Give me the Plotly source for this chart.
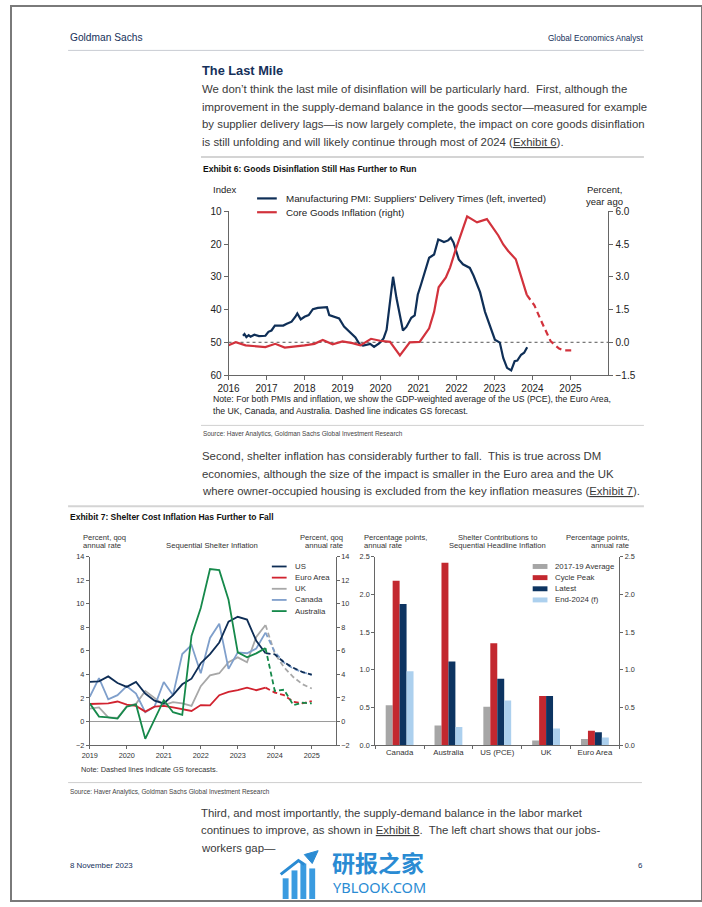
import plotly.graph_objects as go

W, H = 702, 907
BODY = "Liberation Sans, Arial, Helvetica, sans-serif"
ARIAL = "Liberation Sans, Arial, Helvetica, sans-serif"
NAVY = "#15305a"
TEXT = "#3a3a3a"
AXC = "#666666"

# ---------------- Exhibit 6 data ----------------
pmi_x = [2016.38, 2016.42, 2016.47, 2016.53, 2016.58, 2016.68, 2016.80, 2016.97, 2017.05, 2017.13,
         2017.22, 2017.35, 2017.44, 2017.52, 2017.66, 2017.76, 2017.81, 2017.90, 2018.00, 2018.11,
         2018.22, 2018.35, 2018.59, 2018.65, 2018.78, 2018.91, 2019.04, 2019.17, 2019.34, 2019.45,
         2019.54, 2019.73, 2019.83, 2019.97, 2020.08, 2020.16, 2020.25, 2020.33, 2020.42, 2020.51,
         2020.59, 2020.68, 2020.81, 2020.90, 2020.98, 2021.07, 2021.20, 2021.28, 2021.41, 2021.52,
         2021.60, 2021.67, 2021.78, 2021.85, 2021.92, 2021.98, 2022.06, 2022.17, 2022.28, 2022.35,
         2022.45, 2022.55, 2022.62, 2022.75, 2022.88, 2023.01, 2023.14, 2023.23, 2023.33, 2023.44,
         2023.53, 2023.60, 2023.70, 2023.78, 2023.86]
pmi_y = [48.0, 47.5, 48.4, 47.8, 48.3, 47.7, 48.1, 48.0, 46.8, 46.4,
         44.9, 45.0, 44.9, 44.4, 43.7, 42.2, 41.2, 43.0, 42.2, 41.7,
         39.9, 39.5, 39.3, 41.7, 42.2, 42.7, 45.2, 46.7, 48.5, 50.6,
         51.0, 50.5, 51.4, 50.3, 48.8, 46.2, 38.0, 30.0, 36.5, 41.7,
         46.4, 45.3, 42.5, 41.8, 35.5, 32.2, 27.2, 24.2, 23.2, 18.6,
         19.0, 19.4, 18.9, 18.1, 19.5, 21.6, 24.7, 26.2, 27.0, 27.3,
         29.7, 32.5, 34.7, 40.7, 44.9, 49.2, 50.1, 54.8, 57.8, 58.6,
         55.8, 55.6, 53.8, 53.2, 51.5]

core_x = [2016.00, 2016.10, 2016.19, 2016.45, 2016.97, 2017.23, 2017.48, 2018.00, 2018.26, 2018.48,
          2018.74, 2019.00, 2019.26, 2019.47, 2019.75, 2019.99, 2020.25, 2020.51, 2020.77, 2021.03,
          2021.28, 2021.41, 2021.53, 2021.72, 2021.83, 2021.98, 2022.12, 2022.28, 2022.40, 2022.54,
          2022.80, 2022.97, 2023.10, 2023.23, 2023.36, 2023.56, 2023.66, 2023.79, 2023.85]
core_y = [-0.14, -0.05, 0.0, -0.14, -0.22, -0.07, -0.24, -0.14, -0.07, 0.11,
          -0.09, 0.04, -0.04, -0.14, 0.16, 0.07, 0.02, -0.60, 0.0, 0.02,
          0.64, 1.39, 2.52, 2.97, 3.42, 4.25, 5.0, 5.76, 5.64, 5.49,
          5.64, 5.23, 4.89, 4.48, 4.18, 3.8, 3.2, 2.44, 2.17]
core_fx = [2023.85, 2024.05, 2024.26, 2024.48, 2024.70, 2024.82, 2025.04]
core_fy = [2.17, 1.69, 0.86, 0.04, -0.29, -0.37, -0.37]

ex6_names = ["Manufacturing PMI: Suppliers' Delivery Times (left, inverted)", "Core Goods Inflation (right)"]
ex6_colors = ["#0f2f57", "#d2323c"]
ex6_years = list(range(2016, 2026))
ex6_left_ticks = [10, 20, 30, 40, 50, 60]
ex6_right_ticks = [-1.5, 0.0, 1.5, 3.0, 4.5, 6.0]

# ---------------- Exhibit 7 (left) data ----------------
q_act = [2019.0, 2019.25, 2019.5, 2019.75, 2020.0, 2020.25, 2020.5, 2020.75, 2021.0, 2021.25,
         2021.5, 2021.75, 2022.0, 2022.25, 2022.5, 2022.75, 2023.0, 2023.25, 2023.5, 2023.75]
q_fc = [2023.75, 2024.0, 2024.25, 2024.5, 2024.75, 2025.0]

us_act = [3.36, 3.41, 3.83, 3.27, 2.94, 3.36, 2.38, 1.77, 1.54, 2.24, 3.16, 3.64, 4.95, 5.73, 6.71, 8.47, 8.89, 8.66, 6.85, 5.8]
us_fc = [5.8, 5.7, 5.03, 4.56, 4.2, 3.98]
ea_act = [1.49, 1.54, 1.54, 1.7, 1.43, 1.32, 0.84, 1.26, 1.32, 1.21, 1.07, 0.9, 1.4, 1.38, 2.24, 2.52, 2.66, 2.88, 2.66, 2.88]
ea_fc = [2.88, 2.46, 2.24, 1.68, 1.54, 1.74]
uk_act = [1.1, 1.2, 0.35, 0.3, 1.3, 1.5, 2.6, 2.0, 1.4, 1.65, 1.54, 1.32, 3.0, 3.92, 4.1, 5.03, 5.45, 5.03, 7.18, 8.19]
uk_fc = [8.19, 5.79, 4.6, 3.78, 3.16, 2.8]
ca_act = [2.1, 3.69, 1.88, 2.24, 3.0, 2.38, 0.79, 1.26, 3.36, 2.24, 5.73, 6.49, 4.1, 7.1, 8.3, 4.47, 5.87, 5.8, 6.2, 7.55]
ca_fc = [7.55, 5.9, 5.0, 4.5, 4.2, 3.95]
au_act = [1.54, 0.42, 0.35, 0.25, 1.26, 1.45, -1.47, 0.2, 1.82, 0.79, 0.56, 7.27, 9.64, 12.94, 12.85, 10.34, 5.87, 5.45, 5.79, 6.23]
au_fc = [6.23, 2.6, 2.7, 1.4, 1.6, 1.54]

ex7_names = ["US", "Euro Area", "UK", "Canada", "Australia"]
ex7_colors = ["#0e2d55", "#d1232f", "#a8a8a8", "#7f9fcb", "#16894b"]
ex7_act = [us_act, ea_act, uk_act, ca_act, au_act]
ex7_fc = [us_fc, ea_fc, uk_fc, ca_fc, au_fc]
ex7_years = list(range(2019, 2026))
ex7_ticks = [-2, 0, 2, 4, 6, 8, 10, 12, 14]

# ---------------- Exhibit 7 (right) data ----------------
countries = ["Canada", "Australia", "US (PCE)", "UK", "Euro Area"]
avg_1719 = [0.53, 0.26, 0.51, 0.06, 0.08]
cycle_peak = [2.18, 2.42, 1.35, 0.65, 0.19]
latest = [1.87, 1.11, 0.88, 0.65, 0.17]
end_2024 = [0.98, 0.24, 0.59, 0.22, 0.10]
bar_names = ["2017-19 Average", "Cycle Peak", "Latest", "End-2024 (f)"]
bar_colors = ["#a6a6a6", "#c3282f", "#0d3461", "#acd0ee"]
bar_ticks = [0.0, 0.5, 1.0, 1.5, 2.0, 2.5]

fig = go.Figure()

# Exhibit 6 traces
fig.add_trace(go.Scatter(x=pmi_x, y=pmi_y, mode="lines", line=dict(color=ex6_colors[0], width=2.2),
                         xaxis="x", yaxis="y", showlegend=False, hoverinfo="skip"))
fig.add_trace(go.Scatter(x=core_x, y=core_y, mode="lines", line=dict(color=ex6_colors[1], width=2.2),
                         xaxis="x", yaxis="y2", showlegend=False, hoverinfo="skip"))
fig.add_trace(go.Scatter(x=core_fx, y=core_fy, mode="lines", line=dict(color=ex6_colors[1], width=2.2, dash="6px,4px"),
                         xaxis="x", yaxis="y2", showlegend=False, hoverinfo="skip"))

# Exhibit 7 left traces (draw order: UK, Canada, Euro, US, Australia)
order = [2, 3, 1, 0, 4]
for i in order:
    fig.add_trace(go.Scatter(x=q_act, y=ex7_act[i], mode="lines", line=dict(color=ex7_colors[i], width=1.8),
                             xaxis="x2", yaxis="y3", showlegend=False, hoverinfo="skip"))
for i in order:
    fig.add_trace(go.Scatter(x=q_fc, y=ex7_fc[i], mode="lines", line=dict(color=ex7_colors[i], width=1.8, dash="5px,3px"),
                             xaxis="x2", yaxis="y3", showlegend=False, hoverinfo="skip"))
fig.add_trace(go.Scatter(x=[None], y=[None], xaxis="x2", yaxis="y4", showlegend=False, hoverinfo="skip"))

# Exhibit 7 right bars
for vals, name, col in zip([avg_1719, cycle_peak, latest, end_2024], bar_names, bar_colors):
    fig.add_trace(go.Bar(x=countries, y=vals, name=name, marker=dict(color=col, line=dict(width=0)),
                         xaxis="x3", yaxis="y5", showlegend=False, hoverinfo="skip"))
fig.add_trace(go.Scatter(x=[None], y=[None], xaxis="x3", yaxis="y6", showlegend=False, hoverinfo="skip"))


def px(x):
    return x / W


def py(y):
    return 1 - y / H


common = dict(showgrid=False, zeroline=False, showline=True, linecolor=AXC, linewidth=1,
              ticks="outside", tickcolor=AXC, ticklen=4, tickwidth=1)

f10 = dict(family=ARIAL, size=10, color="#222")
f7 = dict(family=ARIAL, size=7.3, color="#333")

fig.update_layout(
    width=W, height=H, autosize=False, margin=dict(l=0, r=0, t=0, b=0),
    paper_bgcolor="white", plot_bgcolor="rgba(0,0,0,0)", showlegend=False,
    barmode="group", bargap=0.43, bargroupgap=0,
    xaxis=dict(common, domain=[px(221), px(607)], range=[2016, 2026], anchor="y",
               tickvals=ex6_years, ticktext=[str(v) for v in ex6_years], tickfont=f10),
    yaxis=dict(common, domain=[py(374), py(208)], range=[60, 10], anchor="x",
               tickvals=ex6_left_ticks, tickfont=f10),
    yaxis2=dict(common, domain=[py(374), py(208)], range=[-1.5, 6.0], anchor="x", overlaying="y", side="right",
                tickvals=ex6_right_ticks, tickformat=".1f", tickfont=f10),
    xaxis2=dict(common, domain=[px(80), px(330)], range=[2019, 2025.65], anchor="y3",
                tickvals=ex7_years, tickfont=f7, ticklen=3),
    yaxis3=dict(common, domain=[py(749), py(558)], range=[-2, 14], anchor="x2",
                tickvals=ex7_ticks, tickfont=f7, ticklen=3),
    yaxis4=dict(common, domain=[py(749), py(558)], range=[-2, 14], anchor="x2", overlaying="y3", side="right",
                tickvals=ex7_ticks, tickfont=f7, ticklen=3),
    xaxis3=dict(common, domain=[px(370), px(618)], anchor="y5", type="category",
                tickson="boundaries", tickfont=dict(family=ARIAL, size=7.8, color="#333"), ticklen=3),
    yaxis5=dict(common, domain=[py(749), py(558)], range=[0, 2.5], anchor="x3",
                tickvals=bar_ticks, tickformat=".1f", tickfont=f7, ticklen=3),
    yaxis6=dict(common, domain=[py(749), py(558)], range=[0, 2.5], anchor="x3", overlaying="y5", side="right",
                tickvals=bar_ticks, tickformat=".1f", tickfont=f7, ticklen=3),
)

ann = []
shapes = []


def txt(x, y, s, size, color=TEXT, family=BODY, anchor="left"):
    ann.append(dict(x=px(x), y=py(y), xref="paper", yref="paper", text=s, showarrow=False,
                    xanchor=anchor, yanchor="middle", font=dict(size=size, color=color, family=family),
                    borderpad=0))


def hline(x0, x1, y, color="#cfcfcf", width=1):
    shapes.append(dict(type="line", xref="paper", yref="paper", x0=px(x0), x1=px(x1), y0=py(y), y1=py(y),
                       line=dict(color=color, width=width)))


def u(s):
    return '<span style="text-decoration:underline">' + s + '</span>'


SP = "\u00a0 "
# Header
txt(59, 32, "Goldman Sachs", 10.2, NAVY)
txt(643, 33, "Global Economics Analyst", 8.2, NAVY, anchor="right")
hline(58, 643, 45, "#c9ccd3", 1)

txt(193, 65, "<b>The Last Mile</b>", 12.8, NAVY)
para1 = ["We don\u2019t think the last mile of disinflation will be particularly hard." + SP + "First, although the",
         "improvement in the supply-demand balance in the goods sector\u2014measured for example",
         "by supplier delivery lags\u2014is now largely complete, the impact on core goods disinflation",
         "is still unfolding and will likely continue through most of 2024 (" + u("Exhibit 6") + ")."]
for i, line in enumerate(para1):
    txt(193, 84 + 18 * i, line, 11.4)

hline(193, 643, 153, "#d4d4d4", 2)
txt(194, 165, "<b>Exhibit 6: Goods Disinflation Still Has Further to Run</b>", 8.5, "#111")

# Exhibit 6 labels
txt(217, 186, "Index", 9.5, "#222", ARIAL, "center")
txt(603, 186, "Percent,", 9.5, "#222", ARIAL, "center")
txt(603, 198, "year ago", 9.5, "#222", ARIAL, "center")
for k, (nm, col) in enumerate(zip(ex6_names, ex6_colors)):
    yy = 195 + 14 * k
    shapes.append(dict(type="line", xref="paper", yref="paper", x0=px(250), x1=px(270), y0=py(yy), y1=py(yy),
                       line=dict(color=col, width=2.2)))
    txt(278, yy, nm, 9.8, "#222", ARIAL)
shapes.append(dict(type="line", xref="x domain", yref="y", x0=0, x1=1, y0=50, y1=50,
                   line=dict(color="#555", width=1, dash="dot"), layer="below"))
txt(204, 398, "Note: For both PMIs and inflation, we show the GDP-weighted average of the US (PCE), the Euro Area,", 8.7, "#222", ARIAL)
txt(204, 410, "the UK, Canada, and Australia. Dashed line indicates GS forecast.", 8.7, "#222", ARIAL)
hline(193, 643, 425, "#d0d0d0", 1)
txt(194, 434, "Source: Haver Analytics, Goldman Sachs Global Investment Research", 6.4, "#444")

para2 = ["Second, shelter inflation has considerably further to fall." + SP + "This is true across DM",
         "economies, although the size of the impact is smaller in the Euro area and the UK",
         "where owner-occupied housing is excluded from the key inflation measures (" + u("Exhibit 7") + ")."]
for i, line in enumerate(para2):
    txt(193, 456 + 18 * i, line, 11.4)

hline(58, 643, 507, "#d4d4d4", 2)
txt(59, 518, "<b>Exhibit 7: Shelter Cost Inflation Has Further to Fall</b>", 8.5, "#111")

# Exhibit 7 left labels
txt(72, 539, "Percent, qoq", 7.6, "#333", ARIAL)
txt(72, 547, "annual rate", 7.6, "#333", ARIAL)
txt(204, 547, "Sequential Shelter Inflation", 7.7, "#333", ARIAL, "center")
txt(338, 539, "Percent, qoq", 7.6, "#333", ARIAL, "right")
txt(338, 547, "annual rate", 7.6, "#333", ARIAL, "right")
shapes.append(dict(type="line", xref="x2 domain", yref="y3", x0=0, x1=1, y0=0, y1=0,
                   line=dict(color="#9a9a9a", width=1), layer="below"))
for k, (nm, col) in enumerate(zip(ex7_names, ex7_colors)):
    yy = 568 + 11.3 * k
    shapes.append(dict(type="line", xref="paper", yref="paper", x0=px(265), x1=px(280), y0=py(yy), y1=py(yy),
                       line=dict(color=col, width=1.8)))
    txt(287, yy, nm, 7.8, "#333", ARIAL)
txt(70, 774, "Note: Dashed lines indicate GS forecasts.", 7.4, "#333", ARIAL)

# Exhibit 7 right labels
txt(358, 539, "Percentage points,", 7.6, "#333", ARIAL)
txt(358, 547, "annual rate", 7.6, "#333", ARIAL)
txt(494, 539, "Shelter Contributions to", 7.6, "#333", ARIAL, "center")
txt(494, 547, "Sequential Headline Inflation", 7.6, "#333", ARIAL, "center")
txt(629, 539, "Percentage points,", 7.6, "#333", ARIAL, "right")
txt(629, 547, "annual rate", 7.6, "#333", ARIAL, "right")
for k, (nm, col) in enumerate(zip(bar_names, bar_colors)):
    yy = 568 + 11.3 * k
    shapes.append(dict(type="rect", xref="paper", yref="paper", x0=px(530), x1=px(545), y0=py(yy + 2.5),
                       y1=py(yy - 2.5), fillcolor=col, line=dict(width=0)))
    txt(552, yy, nm, 7.8, "#333", ARIAL)

hline(58, 641, 787, "#cfcfcf", 1)
txt(59, 797, "Source: Haver Analytics, Goldman Sachs Global Investment Research", 6.4, "#444")

para3 = ["Third, and most importantly, the supply-demand balance in the labor market",
         "continues to improve, as shown in " + u("Exhibit 8") + "." + SP + "The left chart shows that our jobs-",
         "workers gap\u2014"]
for i, line in enumerate(para3):
    txt(192, 818 + 17.5 * i, line, 11.4)

txt(59, 871, "8 November 2023", 7.9, NAVY)
txt(643, 871, "6", 7.9, NAVY, anchor="right")

# Watermark
WM = "#2a8bd3"
txt(373, 867, "<b>研报之家</b>", 23, WM, "Noto Sans CJK SC", "center")
txt(374, 893, "YBLOOK.COM", 14.5, WM, "Noto Sans", "center")
for (x0, x1, y0) in [(276, 282, 884), (285, 291, 876), (294, 300, 869), (303, 309, 874)]:
    shapes.append(dict(type="rect", xref="paper", yref="paper", x0=px(x0), x1=px(x1), y0=py(905), y1=py(y0),
                       fillcolor="#3a9be0", line=dict(width=0)))
shapes.append(dict(type="path", xref="paper", yref="paper",
                   path="M %f %f L %f %f L %f %f" % (px(274), py(880), px(292), py(866), px(298), py(870)),
                   line=dict(color=WM, width=3)))
shapes.append(dict(type="path", xref="paper", yref="paper",
                   path="M %f %f L %f %f L %f %f Z" % (px(298), py(860), px(312), py(856), px(306), py(869)),
                   fillcolor=WM, line=dict(color=WM, width=1)))

# Page frame
shapes.append(dict(type="rect", xref="paper", yref="paper", x0=0, x1=1, y0=0, y1=1,
                   line=dict(color="#7a7a7a", width=2)))

fig.update_layout(annotations=ann, shapes=shapes)
fig.write_html("out.html", config={"displayModeBar": False},
               post_script="document.body.style.margin='0';document.body.style.overflow='hidden';")
